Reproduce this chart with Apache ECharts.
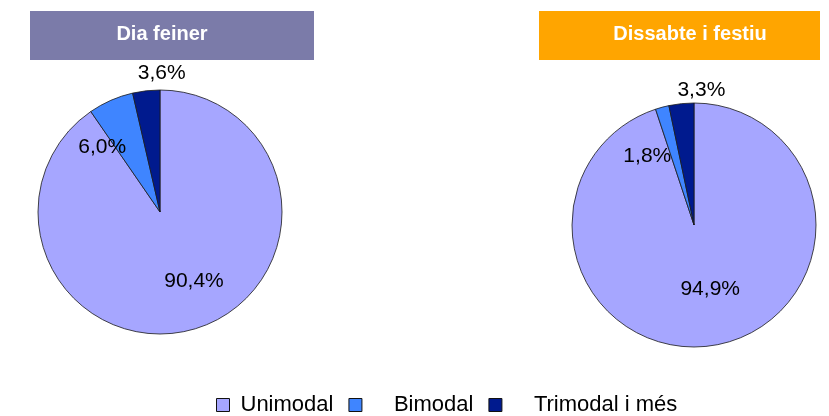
<!DOCTYPE html>
<html>
<head>
<meta charset="utf-8">
<script src="https://cdn.jsdelivr.net/npm/echarts@6/dist/echarts.min.js"></script>
<style>
html,body{margin:0;padding:0;background:#fff;}
#c{width:829px;height:416px;}
</style>
</head>
<body>
<div id="c"></div>
<script>
// ---- data ----
const categories = ['Unimodal', 'Bimodal', 'Trimodal i més'];
const weekdayValues = [90.4, 6.0, 3.6];
const weekendValues = [94.9, 1.8, 3.3];
const panelTitles = ['Dia feiner', 'Dissabte i festiu'];

// ---- styles ----
const FONT = "'Liberation Sans', Arial, Helvetica, sans-serif";
const sliceColors = ['#A6A6FF', '#3F85FF', '#001A8E'];
// label offsets from the default "inside" label position (style only)
const weekdayLabelOffsets = [[15, 8], [-32, -6], [9, -75]];
const weekendLabelOffsets = [[6, 1], [-30, -7], [14, -71]];

function fmt(v) { return v.toFixed(1).replace('.', ',') + '%'; }

function makePie(values, center, offsets) {
  return {
    type: 'pie',
    center: center,
    radius: 122,
    startAngle: 90,
    clockwise: true,
    animation: false,
    silent: true,
    itemStyle: { borderColor: '#1a1a1a', borderWidth: 0.8 },
    label: {
      show: true,
      position: 'inside',
      formatter: p => fmt(p.value),
      color: '#000',
      fontFamily: FONT,
      fontSize: 21
    },
    labelLine: { show: false },
    labelLayout: p => ({ dx: offsets[p.dataIndex][0], dy: offsets[p.dataIndex][1] }),
    emphasis: { disabled: true },
    data: categories.map((c, i) => ({ name: c, value: values[i], itemStyle: { color: sliceColors[i] } }))
  };
}

const chart = echarts.init(document.getElementById('c'), null, { renderer: 'canvas' });
chart.setOption({
  backgroundColor: '#fff',
  animation: false,
  color: sliceColors,
  graphic: [
    { type: 'rect', shape: { x: 30, y: 11, width: 284, height: 49 }, style: { fill: '#7B7BA9' } },
    { type: 'rect', shape: { x: 539, y: 11, width: 281, height: 49 }, style: { fill: '#FFA500' } },
    { type: 'text', x: 162, y: 34, style: { text: panelTitles[0], fill: '#fff', font: 'bold 20px ' + FONT, textAlign: 'center', textVerticalAlign: 'middle' } },
    { type: 'text', x: 690, y: 34, style: { text: panelTitles[1], fill: '#fff', font: 'bold 20px ' + FONT, textAlign: 'center', textVerticalAlign: 'middle' } }
  ],
  legend: {
    data: categories,
    left: 216,
    top: 393,
    orient: 'horizontal',
    icon: 'rect',
    itemWidth: 13,
    itemHeight: 13,
    itemGap: 15,
    padding: 0,
    itemStyle: { borderColor: '#111', borderWidth: 1 },
    selectedMode: false,
    formatter: name => (name === categories[0] ? '{a| }' : '{b| }') + '{t|' + name + '}',
    textStyle: {
      fontFamily: FONT,
      fontSize: 22,
      color: '#000',
      lineHeight: 24,
      rich: {
        a: { width: 6, fontSize: 22, lineHeight: 24, fontFamily: FONT },
        b: { width: 27, fontSize: 22, lineHeight: 24, fontFamily: FONT },
        t: { fontSize: 22, lineHeight: 24, fontFamily: FONT, color: '#000' }
      }
    }
  },
  series: [
    makePie(weekdayValues, [160, 212], weekdayLabelOffsets),
    makePie(weekendValues, [694, 225], weekendLabelOffsets)
  ]
});
</script>
</body>
</html>
